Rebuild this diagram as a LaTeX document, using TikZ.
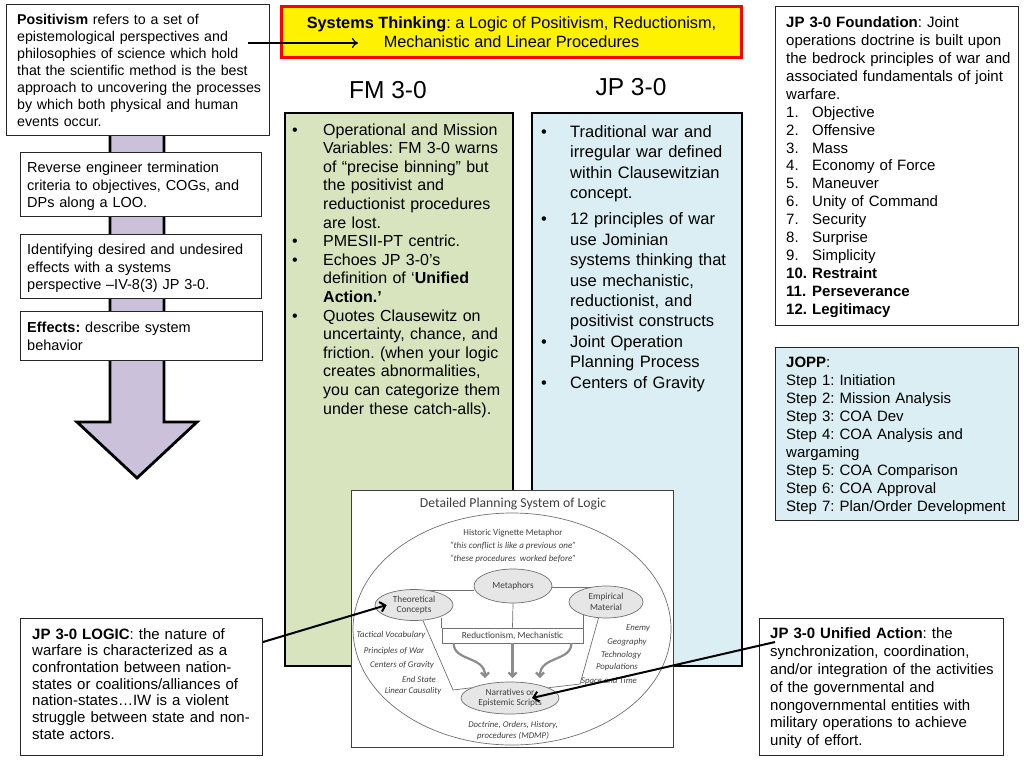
\documentclass[tikz,border=0pt]{standalone}
\usepackage{fontspec}
\setmainfont{Liberation Sans}
\newfontfamily\calib{Carlito}
\usetikzlibrary{arrows.meta,shapes.geometric}
\setlength{\parindent}{0pt}
\setlength{\parskip}{0pt}
\frenchspacing
\definecolor{fmgreen}{HTML}{D7E4BD}
\definecolor{jpblue}{HTML}{DBEEF4}
\definecolor{purp}{HTML}{CCC1DA}
\definecolor{gtext}{HTML}{404040}
\definecolor{gline}{HTML}{707070}
\definecolor{gfill}{HTML}{E6E6E6}
\definecolor{garr}{HTML}{8C8C8C}
\newcommand{\myfs}[2]{\fontsize{#1}{#2}\selectfont}
\newcommand{\bitem}[2]{\hangindent=#1\hangafter=1\noindent\makebox[#1][l]{\textbullet}#2\par}
\newcommand{\nitem}[2]{\makebox[26pt][l]{#1}#2}
\tikzset{
  box/.style={draw=black!85, line width=1pt, fill=white, anchor=north west, inner sep=0pt},
  bigbox/.style={draw=black, line width=2.8pt, anchor=north west, inner sep=0pt},
  txt/.style={anchor=north west, inner sep=0pt, align=left, text width=#1},
  ell/.style={ellipse, draw=gline, fill=gfill, line width=0.7pt, inner sep=0pt, align=center, font=\calib\myfs{9.3}{10.8}, text=gtext},
  glab/.style={inner sep=0pt, font=\calib\itshape\myfs{8.8}{10}, text=gtext},
  gl/.style={draw=gline, line width=0.7pt},
  garrow/.style={draw=garr, line width=2.2pt, -{Straight Barb[length=4pt,width=8pt]}},
  conn/.style={draw=black, line width=2pt, -{Straight Barb[length=5pt,width=10pt]}}
}
\begin{document}
\begin{tikzpicture}[x=1pt,y=-1pt]
\useasboundingbox (0,0) rectangle (1024,768);

% big purple arrow
\draw[fill=purp, line width=2.8pt, line join=miter] (110,134) -- (164,134) -- (164,422) -- (197,422) -- (137,478) -- (77,422) -- (110,422) -- cycle;

% left boxes
\node[box, minimum width=263pt, minimum height=131pt] (pos) at (6,4) {};
\node[txt=255pt, font=\myfs{14.2}{17}] (posT) at (17,13.9) {\textbf{Positivism} refers to a set of\\epistemological perspectives and\\philosophies of science which hold\\that the scientific method is the best\\approach to uncovering the processes\\by which both physical and human\\events occur.};

\node[box, minimum width=241pt, minimum height=64pt] (rev) at (20,152) {};
\node[txt=238pt, font=\myfs{14.5}{17.5}] (revT) at (27,161.8) {Reverse engineer termination\\criteria to objectives, COGs, and\\DPs along a LOO.};

\node[box, minimum width=241pt, minimum height=64pt] (ident) at (20,234) {};
\node[txt=238pt, font=\myfs{14.5}{17.5}] (identT) at (27,243.8) {Identifying desired and undesired\\effects with a systems\\perspective \textendash IV-8(3) JP 3-0.};

\node[box, minimum width=242pt, minimum height=49pt] (eff) at (20,311) {};
\node[txt=238pt, font=\myfs{14.5}{17.5}] (effT) at (27,321.8) {\textbf{Effects:} describe system\\behavior};

% title
\node[draw=red, fill=yellow, line width=3pt, minimum width=460pt, minimum height=51pt, align=center, font=\myfs{16.3}{19.5}] (title) at (511.5,32) {\textbf{Systems Thinking}: a Logic of Positivism, Reductionism,\\Mechanistic and Linear Procedures};
\coordinate (pa) at (248,43);
\coordinate (pb) at (358,43);
\draw[-{To[length=6pt,width=10pt]}, line width=1.3pt] (pa) -- (pb);

% headings
\node[inner sep=0pt, font=\myfs{24.5}{28}] (fmH) at (388,90) {FM 3-0};
\node[inner sep=0pt, font=\myfs{24.5}{28}] (jpH) at (631,87) {JP 3-0};

% FM box
\node[bigbox, fill=fmgreen, minimum width=228pt, minimum height=553pt] (fm) at (283.5,111.5) {};
\node[txt=225pt, font=\myfs{16}{18.6}] (fmT) at (292,123.3) {%
\bitem{31pt}{Operational and Mission\newline Variables: FM 3-0 warns\newline of “precise binning” but\newline the positivist and\newline reductionist procedures\newline are lost.}%
\bitem{31pt}{PMESII-PT centric.}%
\bitem{31pt}{Echoes JP 3-0’s\newline definition of ‘\textbf{Unified}\newline \textbf{Action.’}}%
\bitem{31pt}{Quotes Clausewitz on\newline uncertainty, chance, and\newline friction. (when your logic\newline creates abnormalities,\newline you can categorize them\newline under these catch-alls).}};

% JP box
\node[bigbox, fill=jpblue, minimum width=210pt, minimum height=553pt] (jp) at (530.5,111.5) {};
\node[txt=200pt, font=\myfs{16.5}{20.4}] (jpT) at (541,125.1) {%
\bitem{29pt}{Traditional war and\newline irregular war defined\newline within Clausewitzian\newline concept.}\vspace{6pt}%
\bitem{29pt}{12 principles of war\newline use Jominian\newline systems thinking that\newline use mechanistic,\newline reductionist, and\newline positivist constructs}%
\bitem{29pt}{Joint Operation\newline Planning Process}%
\bitem{29pt}{Centers of Gravity}};

% right boxes
\node[box, minimum width=243pt, minimum height=319pt] (found) at (775,6) {};
\node[txt=230pt, font=\myfs{15}{17.9}] (foundT) at (786,16.7) {\textbf{JP 3-0 Foundation}: Joint\\operations doctrine is built upon\\the bedrock principles of war and\\associated fundamentals of joint\\warfare.\\
\nitem{1.}{Objective}\\\nitem{2.}{Offensive}\\\nitem{3.}{Mass}\\\nitem{4.}{Economy of Force}\\\nitem{5.}{Maneuver}\\\nitem{6.}{Unity of Command}\\\nitem{7.}{Security}\\\nitem{8.}{Surprise}\\\nitem{9.}{Simplicity}\\\textbf{\nitem{10.}{Restraint}}\\\textbf{\nitem{11.}{Perseverance}}\\\textbf{\nitem{12.}{Legitimacy}}};

\node[box, fill=jpblue, minimum width=243pt, minimum height=173pt] (jopp) at (775,347) {};
\node[txt=230pt, font=\myfs{15}{18}] (joppT) at (786,356.4) {\textbf{JOPP}:\\Step 1: Initiation\\Step 2: Mission Analysis\\Step 3: COA Dev\\Step 4: COA Analysis and\\wargaming\\Step 5: COA Comparison\\Step 6: COA Approval\\Step 7: Plan/Order Development};

% embedded figure
\node[box, draw=black!75, line width=0.8pt, minimum width=322pt, minimum height=257pt] (img) at (351,490) {};
\node[inner sep=0pt, font=\calib\myfs{13.7}{15}, text=gtext] (imgT) at (513,504) {Detailed Planning System of Logic};
\node[ellipse, draw=gline, line width=0.7pt, minimum width=318pt, minimum height=232pt, inner sep=0pt] (bigE) at (512,629) {};
\node[inner sep=0pt, align=center, font=\calib\myfs{9}{13}, text=gtext] (hist) at (513,546) {Historic Vignette Metaphor\\\textit{“this conflict is like a previous one”}\\\textit{“these procedures\ \ worked before”}};
\node[ell, minimum width=78pt, minimum height=34pt] (meta) at (513,586) {Metaphors};
\node[ell, minimum width=78pt, minimum height=31pt] (theo) at (414,605) {Theoretical\\Concepts};
\node[ell, minimum width=74pt, minimum height=32pt] (emp) at (606,602) {Empirical\\Material};
\node[ell, minimum width=98pt, minimum height=32pt] (narr) at (510,698) {Narratives or\\Epistemic Scripts};
\node[draw=gline, fill=white, line width=0.7pt, minimum width=141pt, minimum height=15pt, inner sep=0pt, font=\calib\myfs{9.3}{11}, text=gtext] (red) at (512.5,635.5) {Reductionism, Mechanistic};

\draw[gl] (theo.45) -- (theo.45 -| meta.west);
\draw[gl] (emp.135) -- (emp.135 -| meta.east);
\draw[gl] (meta.south) -- (red.north);
\draw[gl] (red.north west) -- (red.north west |- theo.-30);
\draw[gl] (red.north east) -- (red.north east |- emp.-150);
\draw[gl] (theo.-60) -- (453,690) -- (narr.165);
\draw[gl] (emp.-115) -- (580,684) -- (narr.15);

\coordinate (t1) at (485,678);
\coordinate (t2) at (512.5,678);
\coordinate (t3) at (540,678);
\draw[garrow] ([xshift=12pt]red.south west) .. controls +(0,18) and +(0,-22) .. (t1);
\draw[garrow] (red.south) -- (t2);
\draw[garrow] ([xshift=-12pt]red.south east) .. controls +(0,18) and +(0,-22) .. (t3);

\node[glab] (tv) at (391,635) {Tactical Vocabulary};
\node[glab] (pw) at (394,651) {Principles of War};
\node[glab] (cg) at (402,665) {Centers of Gravity};
\node[glab] (es) at (419,679) {End State};
\node[glab] (lc) at (413,691) {Linear Causality};
\node[glab] (en) at (638,628) {Enemy};
\node[glab] (geo) at (627,642) {Geography};
\node[glab] (tech) at (621,655) {Technology};
\node[glab] (pop) at (617,667) {Populations};
\node[glab] (st) at (609,681) {Space and Time};
\node[glab, align=center, font=\calib\itshape\myfs{8.8}{11}] (doc) at (513,731) {Doctrine, Orders, History,\\procedures (MDMP)};

% bottom boxes
\node[box, minimum width=242pt, minimum height=137pt] (logic) at (20,618) {};
\node[txt=235pt, font=\myfs{15}{16.7}] (logicT) at (32,628) {\textbf{JP 3-0 LOGIC}: the nature of\\warfare is characterized as a\\confrontation between nation-\\states or coalitions/alliances of\\nation-states…IW is a violent\\struggle between state and non-\\state actors.};

\node[box, minimum width=244pt, minimum height=137pt] (unif) at (759,618) {};
\node[txt=235pt, font=\myfs{15}{17.8}] (unifT) at (770,627.9) {\textbf{JP 3-0 Unified Action}: the\\synchronization, coordination,\\and/or integration of the activities\\of the governmental and\\nongovernmental entities with\\military operations to achieve\\unity of effort.};

% connectors
\draw[conn] ([yshift=-24pt]logic.north east) -- ([xshift=12pt]theo.west);
\coordinate (ua) at (775,642);
\draw[conn] (ua) -- ([xshift=22pt]narr.center);
\end{tikzpicture}
\end{document}
